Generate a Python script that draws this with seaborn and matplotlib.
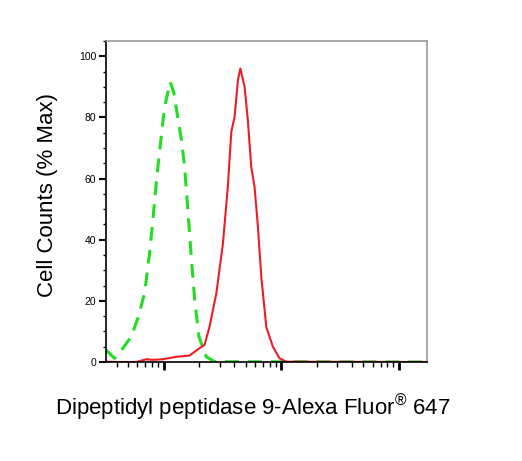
import numpy as np
import pandas as pd
import matplotlib
matplotlib.use('Agg')
import matplotlib.pyplot as plt
import matplotlib.ticker as mticker
import seaborn as sns

# fluorescence intensity (arbitrary log units) and % max cell counts
red_x = [3.25, 4.23, 5.86, 7.13, 8.11, 9.86, 12.8, 16.6, 20.2, 22.3, 24.6, 28.1,
         32.0, 35.2, 37.7, 40.2, 42.9, 45.0, 48.9, 52.1, 55.7, 59.4, 63.5, 67.8,
         74.8, 85.1, 97.0, 110.7, 1740]
red_y = [0.1, 0, 0, 0.9, 0.7, 0.9, 1.7, 2.1, 4.5, 5.6, 11.5, 22.4,
         38.8, 57.3, 75.3, 80.2, 92.2, 96, 90, 79.1, 63.8, 57.3, 44.2, 27.9,
         11.4, 5, 1.2, 0.1, 0]

green_x = [3.25, 3.83, 4.51, 5.31, 6.04, 6.89, 7.60, 8.11, 8.77, 9.55, 10.2, 11.4,
           12.2, 13.2, 14.2, 15.1, 16.1, 17.2, 18.4, 20.0, 23.1, 27.2, 1740]
green_y = [3.9, 1.2, 4.5, 8.3, 14.3, 22.4, 35.5, 46.4, 60.6, 73.6, 83.4, 91.6,
           88.3, 80.1, 72.6, 63.8, 49.7, 34.4, 20.3, 8.3, 1.7, 0.1, 0]

xlabel = 'Dipeptidyl peptidase 9-Alexa Fluor$^{®}$ 647'
ylabel = 'Cell Counts (% Max)'

sns.set_style('ticks')
plt.rcParams['font.family'] = ['Liberation Sans', 'DejaVu Sans']
plt.rcParams['mathtext.fontset'] = 'custom'
plt.rcParams['mathtext.rm'] = 'Liberation Sans'
plt.rcParams['mathtext.default'] = 'regular'
plt.rcParams['text.color'] = 'black'
plt.rcParams['axes.labelcolor'] = 'black'
plt.rcParams['ytick.labelcolor'] = 'black'

fig = plt.figure(figsize=(5.22, 4.61), dpi=100)
ax = fig.add_axes([106 / 522, 1 - 362 / 461, 321 / 522, 321 / 461])

iso = pd.DataFrame({'x': green_x, 'y': green_y})
sample = pd.DataFrame({'x': red_x, 'y': red_y})
sns.lineplot(data=iso, x='x', y='y', ax=ax, color='#22dd22', linewidth=2.2,
             linestyle=(0, (4.5, 3)))
sns.lineplot(data=sample, x='x', y='y', ax=ax, color='#ee1c24', linewidth=1.5)

ax.set_xscale('log')
ax.set_xlim(3.24, 1740)
ax.set_ylim(0, 105)

ax.xaxis.set_major_locator(mticker.FixedLocator([10, 100, 1000]))
ax.xaxis.set_minor_locator(mticker.LogLocator(base=10, subs=np.arange(2, 10), numticks=20))
ax.xaxis.set_major_formatter(mticker.NullFormatter())
ax.xaxis.set_minor_formatter(mticker.NullFormatter())
ax.yaxis.set_major_locator(mticker.MultipleLocator(20))
ax.yaxis.set_minor_locator(mticker.MultipleLocator(5))

ax.tick_params(axis='x', which='major', length=6, width=2, color='black', direction='out')
ax.tick_params(axis='x', which='minor', length=3.8, width=1, color='black', direction='out')
ax.tick_params(axis='y', which='major', length=5, width=1.5, color='black', pad=2,
               labelsize=7.5, labelcolor='black')
ax.tick_params(axis='y', which='minor', length=2.5, width=1, color='black')

for side in ['left', 'bottom']:
    ax.spines[side].set_color('black')
    ax.spines[side].set_linewidth(1.2)
for side in ['top', 'right']:
    ax.spines[side].set_color('#9a9a9a')
    ax.spines[side].set_linewidth(1.2)

ax.set_xlabel(xlabel, fontsize=16, color='black')
ax.set_ylabel(ylabel, fontsize=16, color='black')
ax.xaxis.set_label_coords(0.458, -0.095)
ax.yaxis.set_label_coords(-0.15, 0.52)

fig.savefig('out.png', dpi=100, facecolor='white')
